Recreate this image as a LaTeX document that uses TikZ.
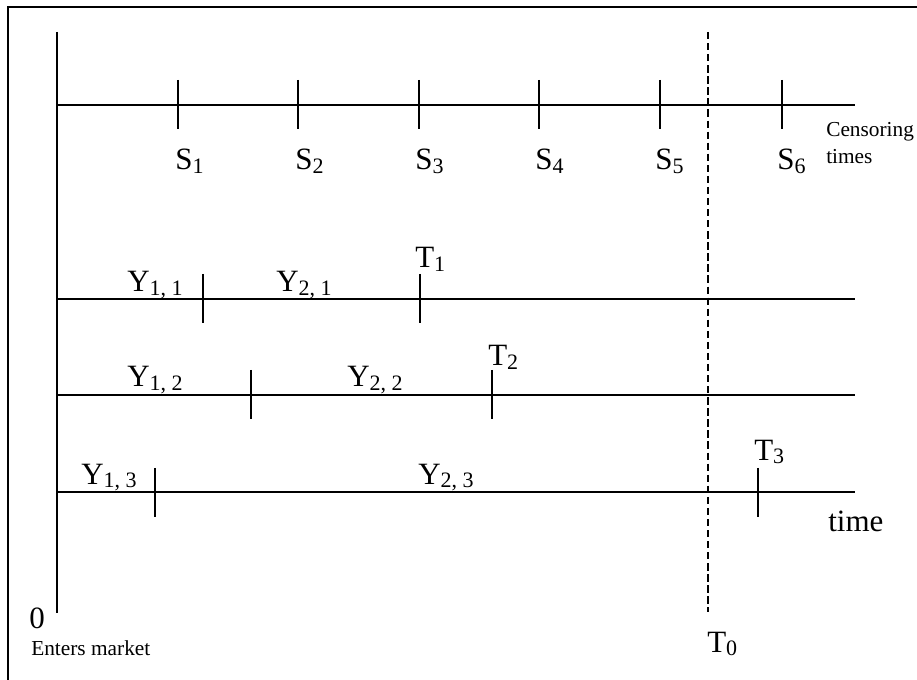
\documentclass[tikz,border=0pt]{standalone}
\usepackage{fontspec}
\setmainfont{Liberation Serif}
\newcommand\subtx[1]{\raisebox{-2.6pt}{\fontsize{16.5}{16.5}\selectfont #1}}
\begin{document}
\begin{tikzpicture}[x=0.75pt,y=-0.75pt,
  lbl/.style={anchor=base west,inner sep=0pt,font=\fontsize{23.25}{26}\selectfont},
  small/.style={anchor=base west,inner sep=0pt,font=\fontsize{16}{18}\selectfont},
  axis/.style={line width=1.4pt},
  tick/.style={line width=1.3pt},
  frame/.style={line width=1.4pt},
  cens/.style={line width=1.2pt,dash pattern=on 5.5pt off 2.8pt}]
\useasboundingbox (0,0) rectangle (917,680);
% frame (top and left edges)
\coordinate (f0) at (8,680);
\coordinate (f1) at (8,7);
\coordinate (f2) at (917,7);
\draw[frame] (f0) -- (f1) -- (f2);
% vertical axis
\coordinate (v0) at (57,32);
\coordinate (v1) at (57,613);
\draw[axis] (v0) -- (v1);
% censoring times line
\coordinate (c0) at (57,105);
\coordinate (c1) at (855,105);
\draw[axis] (c0) -- (c1);
\foreach \n/\x in {1/178,2/298,3/419,4/539,5/660,6/782}{
  \coordinate (s\n a) at (\x,80);
  \coordinate (s\n b) at (\x,129);
  \draw[tick] (s\n a) -- (s\n b);
}
\node[lbl] (S1) at (175,170) {S\subtx{1}};
\node[lbl] (S2) at (295,170) {S\subtx{2}};
\node[lbl] (S3) at (415,170) {S\subtx{3}};
\node[lbl] (S4) at (535,170) {S\subtx{4}};
\node[lbl] (S5) at (655,170) {S\subtx{5}};
\node[lbl] (S6) at (777,170) {S\subtx{6}};
\node[small] (cen) at (826,137) {Censoring};
\node[small] (tim) at (826,164) {times};
% row 1
\coordinate (r10) at (57,299);
\coordinate (r11) at (855,299);
\draw[axis] (r10) -- (r11);
\coordinate (k1a) at (203,274); \coordinate (k1b) at (203,323);
\coordinate (k2a) at (420,274); \coordinate (k2b) at (420,323);
\draw[tick] (k1a) -- (k1b);
\draw[tick] (k2a) -- (k2b);
\node[lbl] (Y11) at (127,292) {Y\subtx{1, 1}};
\node[lbl] (Y21) at (276,292) {Y\subtx{2, 1}};
\node[lbl] (T1) at (415,268) {T\subtx{1}};
% row 2
\coordinate (r20) at (57,395);
\coordinate (r21) at (855,395);
\draw[axis] (r20) -- (r21);
\coordinate (k3a) at (251,370); \coordinate (k3b) at (251,419);
\coordinate (k4a) at (492,370); \coordinate (k4b) at (492,419);
\draw[tick] (k3a) -- (k3b);
\draw[tick] (k4a) -- (k4b);
\node[lbl] (Y12) at (127,387) {Y\subtx{1, 2}};
\node[lbl] (Y22) at (347,387) {Y\subtx{2, 2}};
\node[lbl] (T2) at (488,366) {T\subtx{2}};
% row 3
\coordinate (r30) at (57,492);
\coordinate (r31) at (855,492);
\draw[axis] (r30) -- (r31);
\coordinate (k5a) at (155,468); \coordinate (k5b) at (155,517);
\coordinate (k6a) at (758,468); \coordinate (k6b) at (758,517);
\draw[tick] (k5a) -- (k5b);
\draw[tick] (k6a) -- (k6b);
\node[lbl] (Y13) at (81,484) {Y\subtx{1, 3}};
\node[lbl] (Y23) at (418,484) {Y\subtx{2, 3}};
\node[lbl] (T3) at (754,460) {T\subtx{3}};
\node[lbl] (time) at (828,532) {time};
% T0 dashed line
\coordinate (d0) at (708,32);
\coordinate (d1) at (708,612);
\draw[cens] (d0) -- (d1);
\node[lbl] (T0) at (707,652) {T\subtx{0}};
% origin
\node[lbl] (zero) at (29,628) {0};
\node[small] (ent) at (31,655) {Enters market};
\end{tikzpicture}
\end{document}
